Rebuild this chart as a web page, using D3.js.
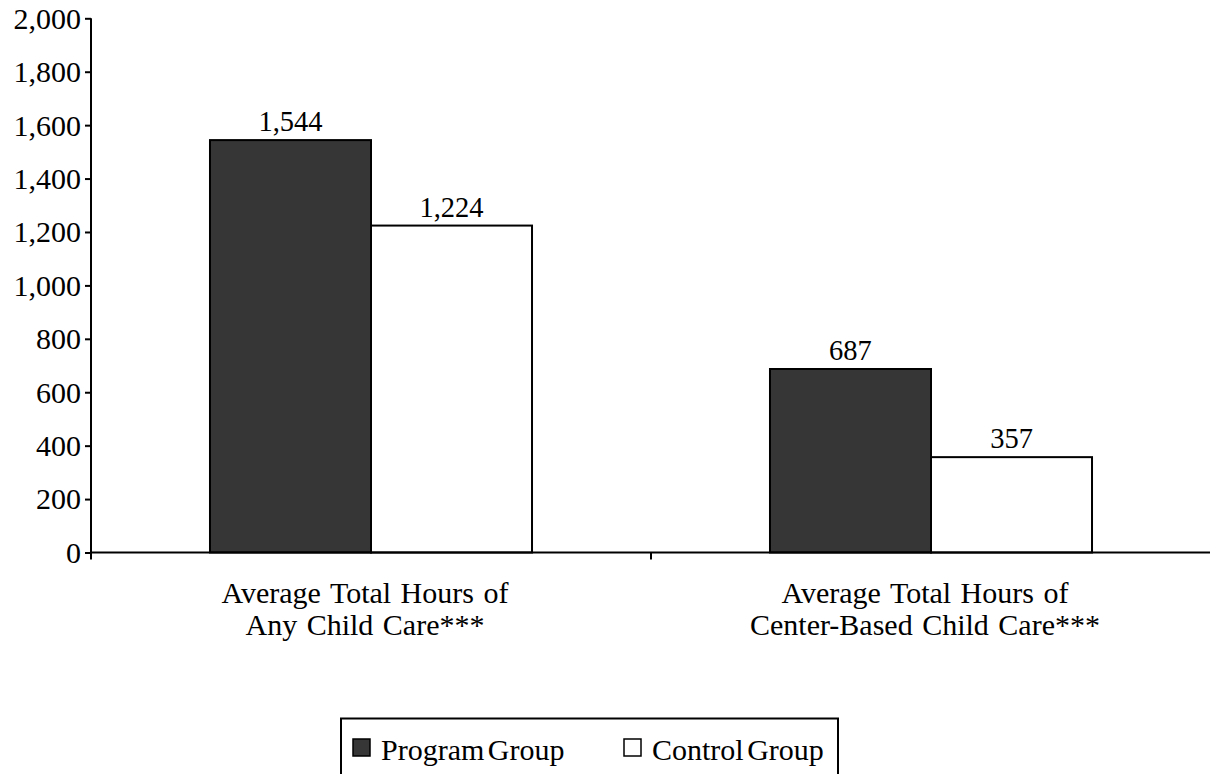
<!DOCTYPE html>
<html><head><meta charset="utf-8">
<script src="https://cdn.jsdelivr.net/npm/d3@7"></script>
<style>body{margin:0;background:#fff;}</style></head>
<body><svg id="c" width="1210" height="774"></svg>
<script>
const categories = [["Average Total Hours of","Any Child Care***"],["Average Total Hours of","Center-Based Child Care***"]];
const categoryKeys = ["any","center"];
const seriesNames = ["Program Group","Control Group"];
const programValues = [1544, 687];
const controlValues = [1224, 357];
const yTicks = [0,200,400,600,800,1000,1200,1400,1600,1800,2000];

const FONT = '"Liberation Serif","Times New Roman",Times,serif';
const fills = ["#363636","#ffffff"];
const svg = d3.select("#c");
const y = d3.scaleLinear().domain([0,2000]).range([552.5,18.3]);
const x0 = d3.scaleBand().domain(categoryKeys).range([91,1211]).paddingInner(0).paddingOuter(0);
const x1 = d3.scaleBand().domain(seriesNames).range([0,x0.bandwidth()]).paddingInner(0).paddingOuter(0.739);

const data = categoryKeys.map((k,i)=>({key:k, vals:[programValues[i], controlValues[i]]}));

// bars
const g = svg.append("g");
data.forEach(d=>{
  d.vals.forEach((v,j)=>{
    const bx = x0(d.key)+x1(seriesNames[j]);
    g.append("rect").attr("x",bx).attr("y",y(v)).attr("width",x1.bandwidth()).attr("height",y(0)-y(v))
      .attr("fill",fills[j]).attr("stroke","#000").attr("stroke-width",2);
    g.append("text").attr("x",bx+x1.bandwidth()/2).attr("y",y(v)-9).attr("text-anchor","middle")
      .style("font-family",FONT).style("font-size","28.5px").attr("fill","#000").text(d3.format(",")(v));
  });
});

// y axis
const ya = svg.append("g").attr("transform","translate(91,0)")
  .call(d3.axisLeft(y).tickValues(yTicks).tickSize(6).tickPadding(4).tickFormat(d3.format(",")));
ya.select(".domain").attr("stroke","#000").attr("stroke-width",2).attr("d",`M0,${y(2000)}V${y(0)}`);
ya.selectAll(".tick line").attr("stroke","#000").attr("stroke-width",2);
ya.selectAll(".tick text").style("font-family",FONT).style("font-size","30px").attr("fill","#000").attr("dy","0.33em");

// x axis
const bounds = [x0.range()[0]].concat(categoryKeys.map(k=>x0(k)+x0.bandwidth()));
svg.append("line").attr("x1",x0.range()[0]).attr("x2",x0.range()[1]).attr("y1",y(0)).attr("y2",y(0))
  .attr("stroke","#000").attr("stroke-width",2);
bounds.slice(0,2).forEach(b=>{
  svg.append("line").attr("x1",b).attr("x2",b).attr("y1",y(0)).attr("y2",y(0)+7).attr("stroke","#000").attr("stroke-width",2);
});
categoryKeys.forEach((k,i)=>{
  const cx = x0(k)+x0.bandwidth()/2 - 6;
  const t = svg.append("text").attr("text-anchor","middle").style("font-family",FONT).style("font-size","30px")
    .style("word-spacing","2px").attr("fill","#000").attr("x",cx).attr("y",603);
  categories[i].forEach((line,li)=>{
    t.append("tspan").attr("x",cx).attr("dy",li===0?0:32).text(line);
  });
});

// legend
const lg = svg.append("g");
lg.append("rect").attr("x",341).attr("y",718.5).attr("width",497).attr("height",70)
  .attr("fill","none").attr("stroke","#000").attr("stroke-width",2);
const legX = [353, 624];
seriesNames.forEach((s,j)=>{
  lg.append("rect").attr("x",legX[j]).attr("y",739).attr("width",17).attr("height",17)
    .attr("fill",fills[j]).attr("stroke","#000").attr("stroke-width",1.5);
  lg.append("text").attr("x",legX[j]+28).attr("y",760).style("font-family",FONT).style("font-size","30px")
    .style("word-spacing","-4px").attr("fill","#000").text(s);
});
</script></body></html>
